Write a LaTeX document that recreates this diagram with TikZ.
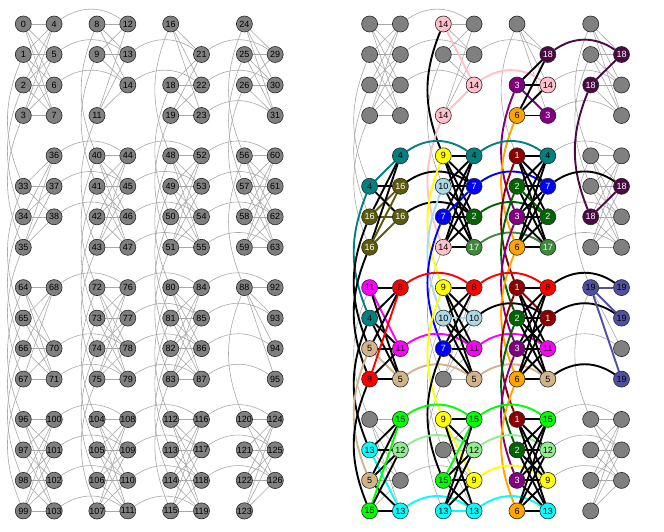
\documentclass[tikz,border=0pt]{standalone}
\usepackage{fontspec}
\setmainfont{Liberation Sans}
\pgfdeclarelayer{bg}
\pgfdeclarelayer{mid}
\pgfsetlayers{bg,mid,main}
\definecolor{gnode}{HTML}{808080}
\definecolor{gedge}{HTML}{A8A8A8}
\definecolor{c1}{HTML}{8B0000}\colorlet{t1}{white}
\definecolor{c2}{HTML}{006400}\colorlet{t2}{white}
\definecolor{c3}{HTML}{800080}\colorlet{t3}{white}
\definecolor{c4}{HTML}{008080}\colorlet{t4}{black}
\definecolor{c5}{HTML}{D2B48C}\colorlet{t5}{black}
\definecolor{c6}{HTML}{FFA500}\colorlet{t6}{black}
\definecolor{c7}{HTML}{0000FF}\colorlet{t7}{white}
\definecolor{c8}{HTML}{FF0000}\colorlet{t8}{black}
\definecolor{c9}{HTML}{FFFF00}\colorlet{t9}{black}
\definecolor{c10}{HTML}{ADD8E6}\colorlet{t10}{black}
\definecolor{c11}{HTML}{FF00FF}\colorlet{t11}{black}
\definecolor{c12}{HTML}{90EE90}\colorlet{t12}{black}
\definecolor{c13}{HTML}{00FFFF}\colorlet{t13}{black}
\definecolor{c14}{HTML}{FFC0CB}\colorlet{t14}{black}
\definecolor{c15}{HTML}{00FF00}\colorlet{t15}{black}
\definecolor{c16}{HTML}{5A5A0A}\colorlet{t16}{white}
\definecolor{c17}{HTML}{3E8A3A}\colorlet{t17}{white}
\definecolor{c18}{HTML}{4A0A44}\colorlet{t18}{white}
\definecolor{c19}{HTML}{5050A0}\colorlet{t19}{black}
\tikzset{
  qb/.style={circle, draw=black!85, line width=0.6pt, fill=gnode, minimum size=16pt,
    inner sep=0pt, font=\fontsize{9}{9}\selectfont},
  ge/.style={draw=gedge, line width=0.6pt},
  te/.style={line width=1.9pt},
  vbend/.style={bend right=22},
  hbend/.style={bend left=35}
}
\newcommand\hwpos[2]{%
  \pgfmathtruncatemacro\hcell{int(#1/8)}%
  \pgfmathtruncatemacro\hr{int(\hcell/4)}%
  \pgfmathtruncatemacro\hc{mod(\hcell,4)}%
  \pgfmathtruncatemacro\hk{mod(#1,8)}%
  \pgfmathsetmacro\hx{#2+23.3+73.7*\hc+(\hk>3?30.8:0)}%
  \pgfmathsetmacro\hy{-(24+131.8*\hr+30.5*mod(\hk,4))}%
}
% pass 0: grey edges, pass 1: thick edges
\newcommand\edgeA[3]{%
  \def\etype{0}%
  \ifcsname lab#1\endcsname\ifcsname lab#2\endcsname\def\etype{1}\fi\fi
  \ifnum\pass=0
    \draw[ge] (L#1) #3 (L#2);
    \ifnum\etype=0 \draw[ge] (R#1) #3 (R#2);\fi
  \else
    \ifnum\etype=1
      \edef\la{\csname lab#1\endcsname}\edef\lb{\csname lab#2\endcsname}%
      \ifnum\la=\lb\relax
        \draw[te, draw=c\la] (R#1) #3 (R#2);
      \else
        \draw[te, draw=black] (R#1) #3 (R#2);
      \fi
    \fi
  \fi
}
\newcommand\alledges{%
  \foreach \n in \presentlist {%
    \pgfmathtruncatemacro\hk{mod(\n,8)}%
    \pgfmathtruncatemacro\hcell{int(\n/8)}%
    \pgfmathtruncatemacro\hr{int(\hcell/4)}%
    \pgfmathtruncatemacro\hc{mod(\hcell,4)}%
    \ifnum\hk<4
      \foreach \j in {4,5,6,7} {%
        \pgfmathtruncatemacro\m{8*\hcell+\j}%
        \ifcsname isp\m\endcsname \edgeA{\n}{\m}{--}\fi
      }%
      \ifnum\hr<3
        \pgfmathtruncatemacro\m{\n+32}%
        \ifcsname isp\m\endcsname \edgeA{\n}{\m}{to[vbend]}\fi
      \fi
    \else
      \ifnum\hc<3
        \pgfmathtruncatemacro\m{\n+8}%
        \ifcsname isp\m\endcsname \edgeA{\n}{\m}{to[hbend]}\fi
      \fi
    \fi
  }%
}
\def\presentlist{0,1,2,3,4,5,6,7,8,9,11,12,13,14,16,18,19,21,22,23,24,25,26,29,30,31,
33,34,35,36,37,38,40,41,42,43,44,45,46,47,48,49,50,51,52,53,54,55,56,57,58,59,60,61,62,63,
64,65,66,67,68,70,71,72,73,74,75,76,77,78,79,80,81,82,83,84,85,86,87,88,92,93,94,95,
96,97,98,99,100,101,102,103,104,105,106,107,108,109,110,111,112,113,114,115,116,117,118,119,
120,121,122,123,124,125,126}
\begin{document}
\begin{tikzpicture}[x=1pt,y=1pt]
\useasboundingbox (0,0) rectangle (664,-532);
\foreach \n in \presentlist {\expandafter\xdef\csname isp\n\endcsname{1}}
\foreach \n/\l in {8/14,11/14,14/14,18/3,19/6,21/18,22/14,23/3,26/18,29/18,
  33/4,34/16,35/16,36/4,37/16,38/16,
  40/9,41/10,42/7,43/14,44/4,45/7,46/2,47/17,
  48/1,49/2,50/3,51/6,52/4,53/7,54/2,55/17,58/18,61/18,
  64/11,65/4,66/5,67/8,68/8,70/11,71/5,
  72/9,73/10,74/7,76/8,77/10,78/11,79/5,
  80/1,81/2,82/3,83/6,84/8,85/1,86/11,87/5,
  88/19,92/19,93/19,95/19,
  97/13,98/5,99/15,100/15,101/12,103/13,
  104/9,106/15,107/13,108/15,109/12,110/9,111/13,
  112/1,113/2,114/3,115/6,116/15,117/12,118/9,119/13}
  {\expandafter\xdef\csname lab\n\endcsname{\l}}
% nodes
\foreach \n in \presentlist {%
  \hwpos{\n}{0}%
  \node[qb] (L\n) at (\hx,\hy) {\n};
  \hwpos{\n}{346.3}%
  \ifcsname lab\n\endcsname
    \edef\lbl{\csname lab\n\endcsname}%
    \node[qb, fill=c\lbl, text=t\lbl] (R\n) at (\hx,\hy) {\lbl};
  \else
    \node[qb] (R\n) at (\hx,\hy) {};
  \fi
}
\begin{pgfonlayer}{bg}
\def\pass{0}
\alledges
\end{pgfonlayer}
\begin{pgfonlayer}{mid}
\def\pass{1}
\alledges
\end{pgfonlayer}
\end{tikzpicture}
\end{document}
